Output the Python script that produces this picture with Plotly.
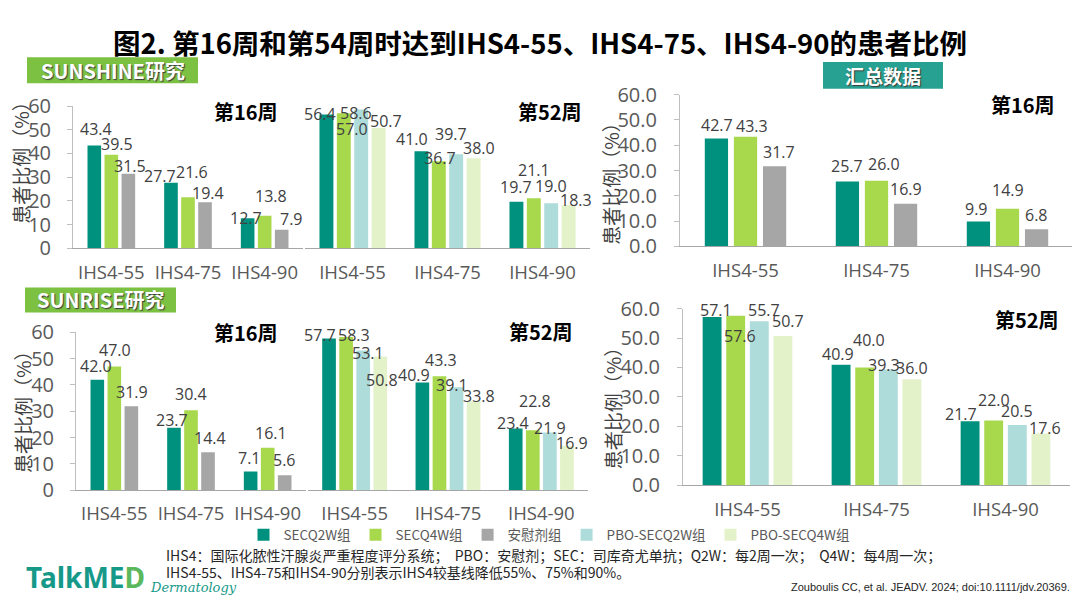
import plotly.graph_objects as go

W, H = 1080, 603

categories = ["IHS4-55", "IHS4-75", "IHS4-90"]
series_names = ["SECQ2W组", "SECQ4W组", "安慰剂组", "PBO-SECQ2W组", "PBO-SECQ4W组"]

# SUNSHINE研究
sunshine_w16_secq2w = [43.4, 27.7, 12.7]
sunshine_w16_secq4w = [39.5, 21.6, 13.8]
sunshine_w16_pbo = [31.5, 19.4, 7.9]
sunshine_w52_secq2w = [56.4, 41.0, 19.7]
sunshine_w52_secq4w = [57.0, 36.7, 21.1]
sunshine_w52_pbo_secq2w = [58.6, 39.7, 19.0]
sunshine_w52_pbo_secq4w = [50.7, 38.0, 18.3]

# SUNRISE研究
sunrise_w16_secq2w = [42.0, 23.7, 7.1]
sunrise_w16_secq4w = [47.0, 30.4, 16.1]
sunrise_w16_pbo = [31.9, 14.4, 5.6]
sunrise_w52_secq2w = [57.7, 40.9, 23.4]
sunrise_w52_secq4w = [58.3, 43.3, 22.8]
sunrise_w52_pbo_secq2w = [53.1, 39.1, 21.9]
sunrise_w52_pbo_secq4w = [50.8, 33.8, 16.9]

# 汇总数据
pooled_w16_secq2w = [42.7, 25.7, 9.9]
pooled_w16_secq4w = [43.3, 26.0, 14.9]
pooled_w16_pbo = [31.7, 16.9, 6.8]
pooled_w52_secq2w = [57.1, 40.9, 21.7]
pooled_w52_secq4w = [57.6, 40.0, 22.0]
pooled_w52_pbo_secq2w = [55.7, 39.3, 20.5]
pooled_w52_pbo_secq4w = [50.7, 36.0, 17.6]

colors = {
    "SECQ2W组": "#00917e",
    "SECQ4W组": "#a8d84c",
    "安慰剂组": "#a6a6a6",
    "PBO-SECQ2W组": "#aedcdb",
    "PBO-SECQ4W组": "#e3f2c9",
}

# 数据标签的像素微调 (dx, dy)，模仿原图中错开的标签
nudges = {
    "sunshine16": [[(2, -16), (-11, -7), (-2, 0)],
                   [(6, -11), (4, -25), (6, -20)],
                   [(2, -8), (3, -9), (10, -11)]],
    "sunshine52": [[(-6, -1), (-9, -12), (0, -15)],
                   [(8, 16), (1, -3), (0, -28)],
                   [(-5, 4), (-5, -20), (0, -17)],
                   [(7, -7), (5, -10), (7, -5)]],
    "sunrise16": [[(-1, -14), (-2, -8), (-1, -13)],
                  [(1, -17), (0, -16), (3, -15)],
                  [(1, -14), (2, -14), (0, -15)]],
    "sunrise52": [[(-9, -3), (-8, -8), (-3, -6)],
                  [(8, -2), (2, -16), (2, -29)],
                  [(5, 2), (-5, -2), (0, -5)],
                  [(2, 23), (5, -5), (5, -3)]],
    "pooled16": [[(1, -13), (0, -15), (-2, -12)],
                 [(6, -11), (7, -17), (0, -19)],
                 [(4, -14), (0, -15), (0, -14)]],
    "pooled52": [[(4, -7), (-3, -11), (-9, -7)],
                 [(4, 20), (4, -27), (0, -20)],
                 [(5, -11), (-4, -5), (0, -14)],
                 [(5, -15), (0, -11), (4, -5)]],
}

# 面板: (名称, 坐标轴序号, x像素范围, y像素(0处, 60处), 数据, 是否显示y轴, 刻度格式, 周标题, 周标题位置)
panels = [
    ("sunshine16", 1, (65, 295), (237, 88),
     [("SECQ2W组", sunshine_w16_secq2w), ("SECQ4W组", sunshine_w16_secq4w), ("安慰剂组", sunshine_w16_pbo)],
     True, "d", "第16周", (238, 94)),
    ("sunshine52", 2, (297, 582), (237, 88),
     [("SECQ2W组", sunshine_w52_secq2w), ("SECQ4W组", sunshine_w52_secq4w),
      ("PBO-SECQ2W组", sunshine_w52_pbo_secq2w), ("PBO-SECQ4W组", sunshine_w52_pbo_secq4w)],
     False, "d", "第52周", (542, 94)),
    ("sunrise16", 3, (68, 298), (490, 325),
     [("SECQ2W组", sunrise_w16_secq2w), ("SECQ4W组", sunrise_w16_secq4w), ("安慰剂组", sunrise_w16_pbo)],
     True, "d", "第16周", (238, 325)),
    ("sunrise52", 4, (300, 580), (490, 325),
     [("SECQ2W组", sunrise_w52_secq2w), ("SECQ4W组", sunrise_w52_secq4w),
      ("PBO-SECQ2W组", sunrise_w52_pbo_secq2w), ("PBO-SECQ4W组", sunrise_w52_pbo_secq4w)],
     False, "d", "第52周", (533, 324)),
    ("pooled16", 5, (672, 1065), (235, 76),
     [("SECQ2W组", pooled_w16_secq2w), ("SECQ4W组", pooled_w16_secq4w), ("安慰剂组", pooled_w16_pbo)],
     True, ".1f", "第16周", (1015, 86)),
    ("pooled52", 6, (675, 1062), (485, 300),
     [("SECQ2W组", pooled_w52_secq2w), ("SECQ4W组", pooled_w52_secq4w),
      ("PBO-SECQ2W组", pooled_w52_pbo_secq2w), ("PBO-SECQ4W组", pooled_w52_pbo_secq4w)],
     True, ".1f", "第52周", (1019, 311)),
]

FONT = "Open Sans, Noto Sans CJK SC, sans-serif"
CJK = "Noto Sans CJK SC, sans-serif"


def px_x(p):
    return p / W


def px_y(p):
    return 1 - p / H


fig = go.Figure()
annotations = []
layout_axes = {}
legend_rank = {name: i for i, name in enumerate(series_names)}
shown = set()

for key, k, (x0, x1), (y0, y60), series, show_y, tfmt, wk, (tx, ty) in panels:
    n = len(series)
    slot = 0.222 if n == 3 else 0.183
    bw = slot * 0.8
    xa = "x" if k == 1 else f"x{k}"
    ya = "y" if k == 1 else f"y{k}"
    idx = list(range(len(categories)))
    for j, (name, vals) in enumerate(series):
        off = -n * slot / 2 + j * slot + (slot - bw) / 2
        show = name not in shown and key.startswith("pooled")
        if show:
            shown.add(name)
        fig.add_trace(go.Bar(
            x=idx, y=vals, width=bw, offset=off, xaxis=xa, yaxis=ya,
            name=name, marker_color=colors[name], marker_line_width=0,
            showlegend=show, legendrank=legend_rank[name], legendgroup=name,
        ))
        for i, v in enumerate(vals):
            dx, dy = nudges[key][j][i]
            annotations.append(dict(
                x=i + off + bw / 2, y=v, xref=xa, yref=ya, text=f"{v:.1f}",
                showarrow=False, xshift=dx, yshift=-dy, xanchor="center", yanchor="middle",
                font=dict(family=FONT, size=16, color="#404040"),
            ))
    xkey = "xaxis" if k == 1 else f"xaxis{k}"
    ykey = "yaxis" if k == 1 else f"yaxis{k}"
    layout_axes[xkey] = dict(
        domain=[px_x(x0), px_x(x1)], anchor=ya, range=[-0.5, 2.5],
        tickvals=idx, ticktext=categories, showline=True, linecolor="#a6a6a6", linewidth=1.3,
        ticks="", showgrid=False, zeroline=False, ticklabelstandoff=7,
        tickfont=dict(family=FONT, size=18.5, color="#595959"), fixedrange=True,
    )
    layout_axes[ykey] = dict(
        domain=[px_y(y0), px_y(y60)], anchor=xa, range=[0, 60], dtick=10,
        showgrid=False, zeroline=False, visible=show_y, tickformat=tfmt,
        showline=True, linecolor="#bfbfbf", linewidth=1, ticks="outside", ticklen=5,
        tickcolor="#bfbfbf", ticklabelstandoff=12 if tfmt == "d" else 13,
        tickfont=dict(family=FONT, size=20, color="#595959"), fixedrange=True,
    )
    annotations.append(dict(
        x=px_x(tx), y=px_y(ty), xref="paper", yref="paper", text=f"<b>{wk}</b>",
        showarrow=False, xanchor="center", yanchor="middle",
        font=dict(family=CJK, size=20, color="#000000"),
    ))

# y轴标题
for (ax, ay) in [(13, 142), (15, 403), (603, 164), (604, 399)]:
    annotations.append(dict(
        x=px_x(ax), y=px_y(ay), xref="paper", yref="paper", text="患者比例（%）",
        textangle=-90, showarrow=False, xanchor="center", yanchor="middle",
        font=dict(family=CJK, size=19, color="#404040"),
    ))

# 标题
annotations.append(dict(
    x=px_x(532), y=px_y(21), xref="paper", yref="paper",
    text="<b>图2. 第16周和第54周时达到IHS4-55、IHS4-75、IHS4-90的患者比例</b>",
    showarrow=False, xanchor="center", yanchor="middle",
    font=dict(family=CJK, size=27.5, color="#000000"),
))

# 研究标签框
shapes = []
boxes = [
    ("SUNSHINE研究", (19, 190), (37, 64), "#7cc142", 20),
    ("SUNRISE研究", (17, 168), (278, 304), "#7cc142", 20),
    ("汇总数据", (815, 935), (42, 70), "#27a192", 19),
]
for txt, (bx0, bx1), (by0, by1), fill, fs in boxes:
    shapes.append(dict(
        type="rect", xref="paper", yref="paper",
        x0=px_x(bx0), x1=px_x(bx1), y0=px_y(by1), y1=px_y(by0),
        fillcolor=fill, line=dict(width=0), layer="below",
    ))
    annotations.append(dict(
        x=px_x((bx0 + bx1) / 2), y=px_y((by0 + by1) / 2), xref="paper", yref="paper",
        text=f"<b>{txt}</b>", showarrow=False, xanchor="center", yanchor="middle",
        font=dict(family=CJK, size=fs, color="#ffffff", shadow="1px 1px 1px #3a3a3a"),
    ))

# 脚注
annotations.append(dict(
    x=px_x(156), y=px_y(558), xref="paper", yref="paper",
    text="IHS4：国际化脓性汗腺炎严重程度评分系统；  PBO：安慰剂；SEC：司库奇尤单抗；Q2W：每2周一次；  Q4W：每4周一次；",
    showarrow=False, xanchor="left", yanchor="middle",
    font=dict(family=CJK, size=14, color="#262626"),
))
annotations.append(dict(
    x=px_x(156), y=px_y(576), xref="paper", yref="paper",
    text="IHS4-55、IHS4-75和IHS4-90分别表示IHS4较基线降低55%、75%和90%。",
    showarrow=False, xanchor="left", yanchor="middle",
    font=dict(family=CJK, size=14, color="#262626"),
))
annotations.append(dict(
    x=px_x(1064), y=px_y(591), xref="paper", yref="paper",
    text="Zouboulis CC, et al. JEADV. 2024; doi:10.1111/jdv.20369.",
    showarrow=False, xanchor="right", yanchor="middle",
    font=dict(family="Liberation Sans Narrow, Liberation Sans, sans-serif", size=11, color="#262626"),
))

# 标志
annotations.append(dict(
    x=px_x(16), y=px_y(581), xref="paper", yref="paper",
    text="<b>TalkME<span style='color:#5cb85c'>D</span></b>",
    showarrow=False, xanchor="left", yanchor="middle",
    font=dict(family="Noto Sans, sans-serif", size=28, color="#17998a"),
))
annotations.append(dict(
    x=px_x(140), y=px_y(592), xref="paper", yref="paper",
    text="<i>Dermatology</i>",
    showarrow=False, xanchor="left", yanchor="middle",
    font=dict(family="DejaVu Serif, serif", size=13, color="#17998a"),
))

fig.update_layout(
    width=W, height=H, margin=dict(l=0, r=0, t=0, b=0),
    paper_bgcolor="#ffffff", plot_bgcolor="#ffffff",
    barmode="overlay", showlegend=True,
    legend=dict(
        orientation="h", x=px_x(541), y=px_y(537), xanchor="center", yanchor="middle",
        font=dict(family=CJK, size=13.5, color="#595959"), itemwidth=30,
        traceorder="normal", bgcolor="rgba(0,0,0,0)",
    ),
    annotations=annotations, shapes=shapes,
    **layout_axes,
)

fig.write_html("out.html")
